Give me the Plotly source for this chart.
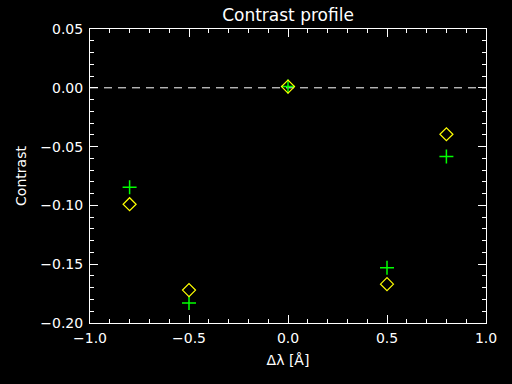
import plotly.graph_objects as go

# Data
x_pos = [-0.8, -0.5, 0.0, 0.5, 0.8]
diamond_vals = [-0.099, -0.172, 0.001, -0.167, -0.0395]
plus_vals = [-0.0845, -0.183, 0.001, -0.153, -0.0585]
zero_line_x = [-1.0, 1.0]
zero_line_y = [0.0, 0.0]

xtick_vals = [-1.0, -0.5, 0.0, 0.5, 1.0]
xtick_text = ["\u22121.0", "\u22120.5", "0.0", "0.5", "1.0"]
ytick_vals = [0.05, 0.0, -0.05, -0.10, -0.15, -0.20]
ytick_text = ["0.05", "0.00", "\u22120.05", "\u22120.10", "\u22120.15", "\u22120.20"]

font_family = "DejaVu Sans"

fig = go.Figure()
fig.add_trace(go.Scatter(x=zero_line_x, y=zero_line_y, mode="lines",
                         line=dict(color="white", width=1, dash="8px,6px"),
                         hoverinfo="skip", showlegend=False))
fig.add_trace(go.Scatter(x=x_pos, y=plus_vals, mode="markers",
                         marker=dict(symbol="cross-thin-open", size=10, color="#00ff00",
                                     line=dict(color="#00ff00", width=1.5)),
                         showlegend=False))
fig.add_trace(go.Scatter(x=x_pos, y=diamond_vals, mode="markers",
                         marker=dict(symbol="diamond-open", size=10, color="#ffff00",
                                     line=dict(color="#ffff00", width=1.2)),
                         showlegend=False))

axis_common = dict(showgrid=False, zeroline=False, showline=True, linecolor="white",
                   linewidth=1, mirror="allticks", ticks="inside", ticklen=8,
                   tickcolor="white", tickwidth=1,
                   tickfont=dict(family=font_family, size=14, color="white"))

fig.update_xaxes(range=[-1.0, 1.0], tickvals=xtick_vals, ticktext=xtick_text,
                 minor=dict(dtick=0.1, ticks="inside", ticklen=4, tickcolor="white", showgrid=False),
                 ticklabelstandoff=2,
                 title=dict(text="\u0394\u03bb [\u00c5]", font=dict(family=font_family, size=14, color="white"),
                            standoff=10),
                 **axis_common)
fig.update_yaxes(range=[-0.2, 0.05], tickvals=ytick_vals, ticktext=ytick_text,
                 minor=dict(dtick=0.01, ticks="inside", ticklen=4, tickcolor="white", showgrid=False),
                 ticklabelstandoff=3,
                 title=dict(text="Contrast", font=dict(family=font_family, size=14, color="white"),
                            standoff=10),
                 **axis_common)

fig.update_layout(
    width=512, height=384,
    paper_bgcolor="black", plot_bgcolor="black",
    margin=dict(l=90, r=26, t=29, b=61),
    title=dict(text="Contrast profile", x=(90 + 486) / 2 / 512, xanchor="center",
               y=1 - 15 / 384, yanchor="middle",
               font=dict(family=font_family, size=17, color="white")),
)

fig.write_html("out.html", config={"displayModeBar": False},
               post_script="document.body.style.margin='0';document.body.style.padding='0';document.body.style.background='black';")
